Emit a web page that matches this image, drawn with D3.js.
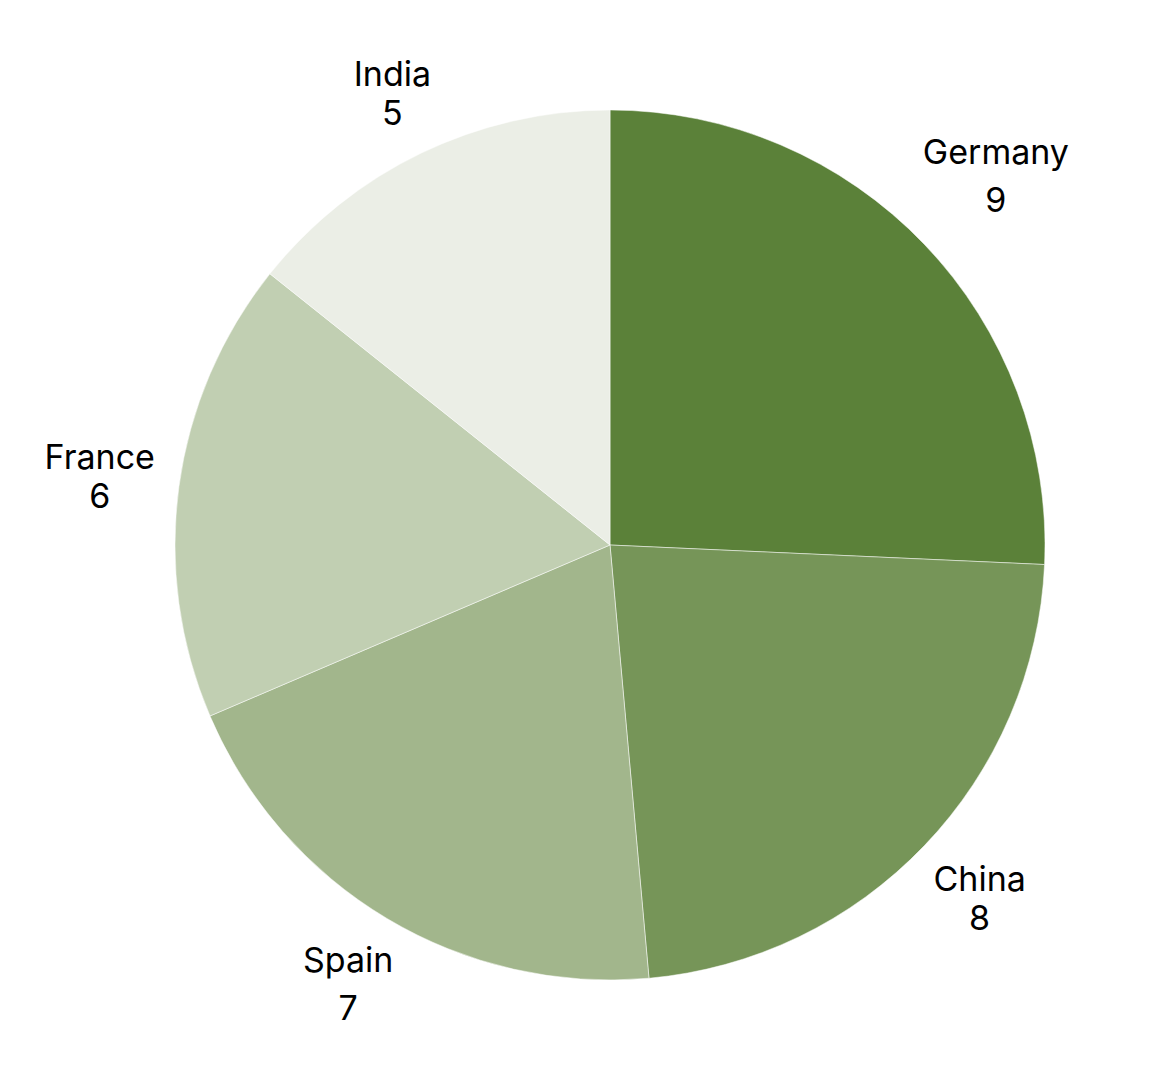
<!DOCTYPE html>
<html>
<head>
<meta charset="utf-8">
<script src="https://cdn.jsdelivr.net/npm/d3@7"></script>
<style>
  body { margin: 0; background: #fff; }
  text { font-family: Inter, "Noto Sans", sans-serif; }
</style>
</head>
<body>
<div class="chart"></div>
<script>
const countries = ["Germany", "China", "Spain", "France", "India"];
const counts = [9, 8, 7, 6, 5];
const colors = ["#5b8139", "#769558", "#a2b68c", "#c1cfb2", "#ebeee6"];

const width = 1164, height = 1080;
const cx = 610, cy = 545, radius = 435;
const labelGap = 21;
const fontSize = 34;
const capH = fontSize * 0.727;

const data = countries.map((c, i) => ({name: c, value: counts[i]}));

const svg = d3.select(".chart").append("svg")
  .attr("width", width)
  .attr("height", height);

const g = svg.append("g")
  .attr("transform", `translate(${cx},${cy})`);

const pie = d3.pie().sort(null).value(d => d.value);
const arc = d3.arc().innerRadius(0).outerRadius(radius);
const color = d3.scaleOrdinal().domain(countries).range(colors);

const arcs = pie(data);

g.selectAll("path")
  .data(arcs)
  .enter()
  .append("path")
  .attr("d", arc)
  .attr("fill", d => color(d.data.name))
  .attr("stroke", "#fff")
  .attr("stroke-width", 0.5);

// labels sit just outside the rim, box edge ~labelGap away from the pie
const labels = g.selectAll(".label")
  .data(arcs)
  .enter()
  .append("text")
  .attr("class", "label")
  .attr("font-size", fontSize)
  .attr("fill", "#000")
  .attr("text-anchor", "middle");

labels.each(function(d) {
  const t = d3.select(this);
  // names with descenders get a taller first line
  const gap = /[gjpqy]/.test(d.data.name) ? 48 : 39;
  const l1 = t.append("tspan").attr("x", 0).attr("y", 0).text(d.data.name);
  const l2 = t.append("tspan").attr("x", 0).attr("y", gap).text(d.data.value);
  const w = Math.max(l1.node().getComputedTextLength(), l2.node().getComputedTextLength()) / 2;
  const h = (capH + gap) / 2;
  const a = (d.startAngle + d.endAngle) / 2;
  const ux = Math.sin(a), uy = -Math.cos(a);
  const dist = radius + labelGap + w * Math.abs(ux) + h * Math.abs(uy);
  const bx = dist * ux, by = dist * uy;
  t.attr("transform", `translate(${bx},${by - (gap - capH) / 2})`);
});
</script>
</body>
</html>
